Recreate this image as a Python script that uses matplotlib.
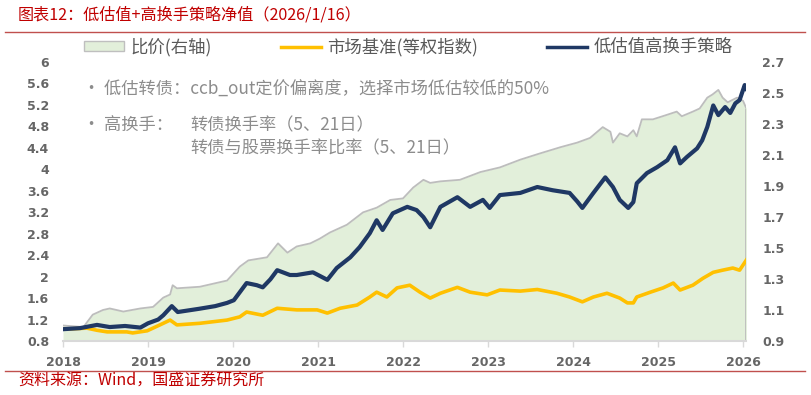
import numpy as np
import matplotlib
matplotlib.use("Agg")
import matplotlib.pyplot as plt
from matplotlib.patches import Patch
from matplotlib.lines import Line2D

plt.rcParams['font.family'] = ['Noto Sans CJK SC', 'DejaVu Sans']

# 低估值高换手策略 (left axis)
t_strat = [2018.00, 2018.20, 2018.40, 2018.55, 2018.73, 2018.91, 2019.00, 2019.12, 2019.18, 2019.28,
           2019.35, 2019.60, 2019.79, 2019.93, 2020.01, 2020.16, 2020.28, 2020.35, 2020.44, 2020.52,
           2020.67, 2020.75, 2020.94, 2021.11, 2021.22, 2021.38, 2021.49, 2021.61, 2021.69, 2021.76,
           2021.88, 2022.05, 2022.16, 2022.24, 2022.32, 2022.44, 2022.64, 2022.79, 2022.94, 2023.02,
           2023.14, 2023.38, 2023.58, 2023.76, 2023.96, 2024.05, 2024.11, 2024.24, 2024.38, 2024.47,
           2024.55, 2024.65, 2024.71, 2024.75, 2024.87, 2024.99, 2025.11, 2025.20, 2025.26, 2025.34,
           2025.46, 2025.52, 2025.58, 2025.65, 2025.71, 2025.79, 2025.85, 2025.91, 2025.96, 2026.02,
           2026.04]
strat = [1.02, 1.04, 1.10, 1.06, 1.08, 1.05, 1.13, 1.20, 1.28, 1.45,
         1.34, 1.40, 1.45, 1.51, 1.56, 1.88, 1.84, 1.80, 1.95, 2.12,
         2.03, 2.03, 2.08, 1.94, 2.16, 2.36, 2.55, 2.81, 3.05, 2.87,
         3.18, 3.30, 3.24, 3.11, 2.92, 3.30, 3.48, 3.30, 3.43, 3.28,
         3.52, 3.56, 3.67, 3.61, 3.56, 3.40, 3.28, 3.56, 3.85, 3.67,
         3.43, 3.28, 3.39, 3.74, 3.93, 4.04, 4.17, 4.41, 4.11, 4.23,
         4.39, 4.54, 4.79, 5.19, 5.01, 5.16, 5.05, 5.23, 5.29, 5.57,
         5.50]

# 市场基准(等权指数) (left axis)
t_bench = [2018.00, 2018.28, 2018.40, 2018.52, 2018.75, 2018.82, 2018.99, 2019.14, 2019.26, 2019.34,
           2019.61, 2019.93, 2020.08, 2020.16, 2020.35, 2020.52, 2020.75, 2020.99, 2021.11, 2021.26,
           2021.46, 2021.61, 2021.69, 2021.81, 2021.93, 2022.08, 2022.20, 2022.32, 2022.44, 2022.64,
           2022.79, 2022.99, 2023.14, 2023.38, 2023.58, 2023.81, 2023.96, 2024.11, 2024.24, 2024.40,
           2024.55, 2024.64, 2024.71, 2024.75, 2024.91, 2025.06, 2025.18, 2025.26, 2025.41, 2025.53,
           2025.65, 2025.76, 2025.88, 2025.96, 2026.04]
bench = [1.02, 1.04, 1.00, 0.97, 0.97, 0.95, 0.99, 1.10, 1.19, 1.10,
         1.13, 1.19, 1.25, 1.34, 1.28, 1.41, 1.38, 1.38, 1.32, 1.41,
         1.47, 1.62, 1.71, 1.62, 1.79, 1.84, 1.71, 1.60, 1.69, 1.80,
         1.71, 1.66, 1.75, 1.73, 1.76, 1.69, 1.62, 1.53, 1.62, 1.69,
         1.60, 1.51, 1.51, 1.62, 1.71, 1.79, 1.88, 1.75, 1.84, 1.97,
         2.08, 2.12, 2.16, 2.12, 2.31]

# 比价(右轴)
t_ratio = [2018.00, 2018.24, 2018.35, 2018.47, 2018.55, 2018.71, 2018.91, 2019.06, 2019.18, 2019.26,
           2019.29, 2019.34, 2019.61, 2019.93, 2020.08, 2020.18, 2020.40, 2020.53, 2020.64, 2020.75,
           2020.91, 2021.02, 2021.14, 2021.34, 2021.53, 2021.69, 2021.85, 2022.00, 2022.12, 2022.24,
           2022.32, 2022.44, 2022.67, 2022.91, 2023.14, 2023.38, 2023.61, 2023.85, 2024.05, 2024.20,
           2024.35, 2024.44, 2024.47, 2024.55, 2024.64, 2024.71, 2024.75, 2024.81, 2024.94, 2025.11,
           2025.22, 2025.28, 2025.41, 2025.49, 2025.58, 2025.64, 2025.71, 2025.76, 2025.82, 2025.93,
           2026.00, 2026.04]
ratio = [1.00, 0.99, 1.07, 1.10, 1.11, 1.09, 1.11, 1.12, 1.18, 1.20,
         1.26, 1.24, 1.25, 1.29, 1.38, 1.42, 1.44, 1.53, 1.47, 1.51,
         1.53, 1.56, 1.60, 1.65, 1.73, 1.76, 1.81, 1.82, 1.89, 1.94,
         1.92, 1.93, 1.94, 1.99, 2.02, 2.07, 2.11, 2.15, 2.18, 2.21,
         2.28, 2.25, 2.18, 2.24, 2.22, 2.26, 2.22, 2.33, 2.33, 2.36,
         2.38, 2.35, 2.38, 2.40, 2.47, 2.49, 2.52, 2.47, 2.44, 2.47,
         2.45, 2.40]

years = [2018, 2019, 2020, 2021, 2022, 2023, 2024, 2025, 2026]
left_ticks = [0.8, 1.2, 1.6, 2.0, 2.4, 2.8, 3.2, 3.6, 4.0, 4.4, 4.8, 5.2, 5.6, 6.0]
right_ticks = [0.9, 1.1, 1.3, 1.5, 1.7, 1.9, 2.1, 2.3, 2.5, 2.7]

W, H = 811, 395
fig = plt.figure(figsize=(W / 100, H / 100), dpi=100)
ax = fig.add_axes([63 / W, 54 / H, 683.4 / W, 279 / H])
ax2 = ax.twinx()
ax.set_zorder(ax2.get_zorder() + 1)
ax.patch.set_visible(False)

fill_c = '#E2EFDA'
gray_c = '#BDBDBD'
navy = '#1F3864'
gold = '#FFC000'
tick_c = '#666666'

ax2.fill_between(t_ratio, 0.9, ratio, color=fill_c, lw=0)
ax2.plot(t_ratio, ratio, color=gray_c, lw=1.3)
ax2.vlines(t_ratio[-1], 0.9, ratio[-1], color=gray_c, lw=1.3)

ax.plot(t_bench, bench, color=gold, lw=2.6, solid_joinstyle='round')
ax.plot(t_strat, strat, color=navy, lw=3.0, solid_joinstyle='round')

ax.set_xlim(2018, 2026.04)
ax.set_ylim(0.8, 6.0)
ax2.set_ylim(0.9, 2.7)
ax.set_xticks(years)
ax.set_xticklabels([str(y) for y in years])
ax.set_yticks(left_ticks)
ax.set_yticklabels(['%g' % v for v in left_ticks])
ax2.set_yticks(right_ticks)
ax2.set_yticklabels(['%.1f' % v for v in right_ticks])

for a in (ax, ax2):
    for s in ['top', 'left', 'right', 'bottom']:
        a.spines[s].set_visible(False)
ax.spines['bottom'].set_visible(True)
ax.spines['bottom'].set_color('#D9D9D9')
ax.spines['bottom'].set_linewidth(1.5)

ax.tick_params(axis='x', length=4, color='#D9D9D9', width=1, pad=7,
               labelsize=9, labelcolor=tick_c)
ax.tick_params(axis='y', length=0, pad=10, labelsize=9, labelcolor=tick_c)
ax2.tick_params(axis='y', length=0, pad=11.5, labelsize=9, labelcolor=tick_c)
for lab in ax.get_xticklabels() + ax.get_yticklabels() + ax2.get_yticklabels():
    lab.set_fontweight('bold')
    lab.set_family('DejaVu Sans')

# legend
handles = [Patch(facecolor=fill_c, edgecolor='#BFBFBF', lw=1),
           Line2D([], [], color=gold, lw=2.5),
           Line2D([], [], color=navy, lw=2.5)]
labels = ['比价(右轴)', '市场基准(等权指数)', '低估值高换手策略']
fig.legend(handles, labels, loc='center left', bbox_to_anchor=(84 / W, 1 - 47 / H),
           ncol=3, frameon=False, fontsize=12.5, handlelength=2.3, handleheight=0.5,
           handletextpad=0.35, columnspacing=4.0, borderpad=0, borderaxespad=0,
           labelcolor='#595959')

# notes
note_c = '#8C8C8C'
fig.text(83 / W, 1 - 90 / H, '• 低估转债：ccb_out定价偏离度，选择市场低估较低的50%',
         fontsize=12.4, color=note_c, style='italic', va='center')
fig.text(83 / W, 1 - 125 / H, '• 高换手：', fontsize=12.4, color=note_c, style='italic', va='center')
fig.text(190 / W, 1 - 125 / H, '转债换手率（5、21日）', fontsize=12.4, color=note_c,
         style='italic', va='center')
fig.text(190 / W, 1 - 148 / H, '转债与股票换手率比率（5、21日）', fontsize=12.4, color=note_c,
         style='italic', va='center')

# title, source, rules
red = '#C00000'
fig.text(18 / W, 1 - 15 / H, '图表12：低估值+高换手策略净值（2026/1/16）', fontsize=11.6,
         color=red, style='italic', va='center')
fig.text(18 / W, 1 - 381 / H, '资料来源：Wind，国盛证券研究所', fontsize=11.5,
         color=red, style='italic', va='center')
fig.add_artist(Line2D([5 / W, 805 / W], [1 - 32 / H, 1 - 32 / H], color='#C0504D', lw=1))
fig.add_artist(Line2D([5 / W, 805 / W], [1 - 371 / H, 1 - 371 / H], color='#C0504D', lw=1))

fig.savefig('out.png', dpi=100)
